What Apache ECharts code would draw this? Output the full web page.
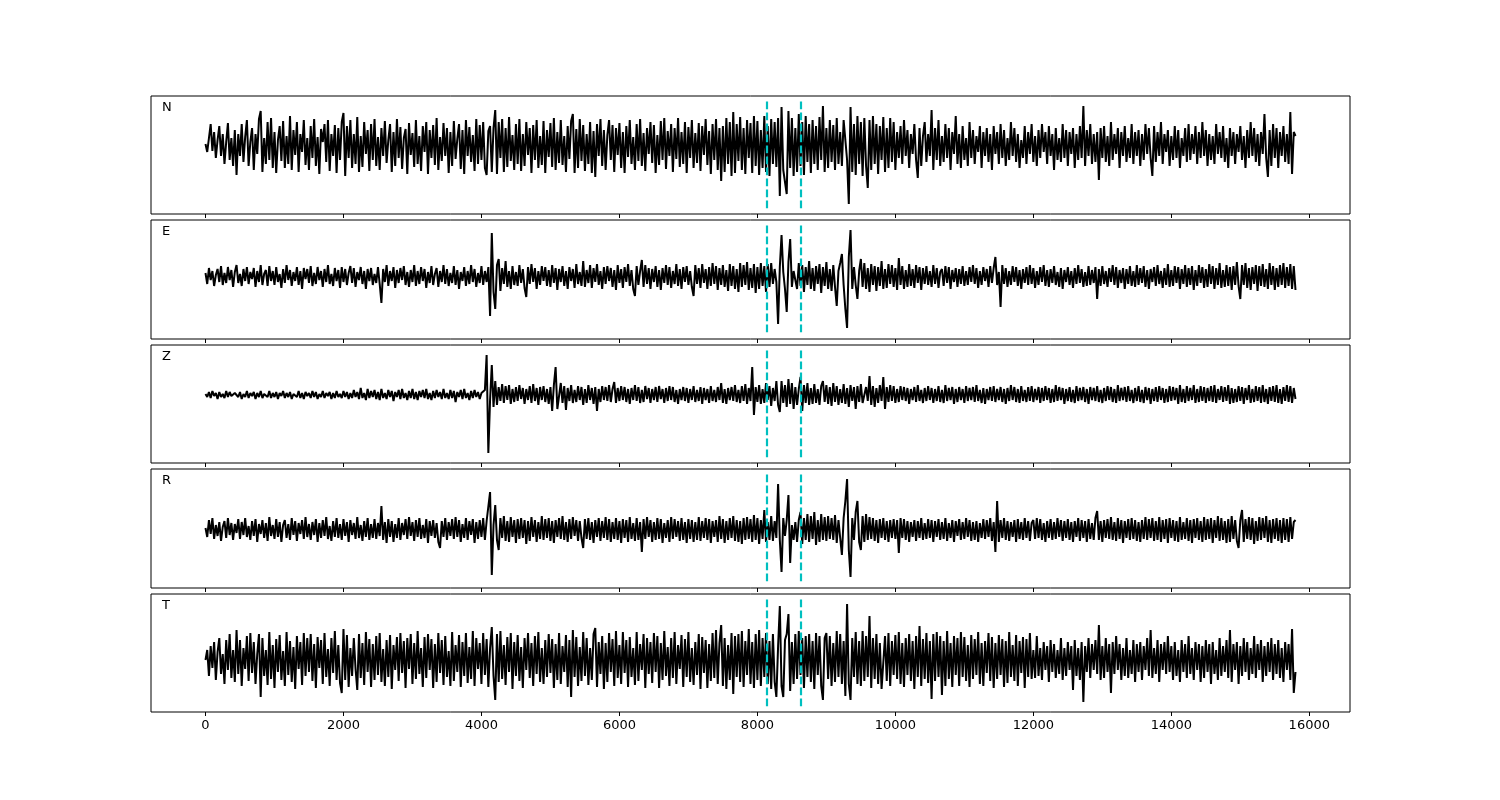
<!DOCTYPE html>
<html>
<head>
<meta charset="utf-8">
<script src="https://cdn.jsdelivr.net/npm/echarts/dist/echarts.min.js"></script>
<style>
html,body{margin:0;padding:0;background:#fff;}
#chart{width:1500px;height:800px;}
</style>
</head>
<body>
<div id="chart"></div>
<script>
// ---- data (sample step 25: t = index*25; amplitudes in trace units) ----
const SAMPLE_STEP = 25;
const componentNames = ['N', 'E', 'Z', 'R', 'T'];
const pickTimes = [8130, 8623];
const xTicks = [0, 2000, 4000, 6000, 8000, 10000, 12000, 14000, 16000];

const traceN = [
2,-6,8,22,-5,14,-12,6,20,-10,12,-18,4,23,-14,8,-20,16,-29,12,
-10,22,-16,9,26,-20,4,18,-24,12,-8,27,35,-26,8,-18,24,-14,28,-22,
14,-27,6,20,-15,25,-22,10,-18,30,-24,16,-9,24,-26,12,-6,26,-19,8,
-24,20,-12,27,-20,9,-28,17,4,22,-16,26,-25,12,-10,21,-27,18,-14,24,
33,-30,20,-12,26,-22,12,-18,29,-26,10,-21,24,-8,16,-25,22,-14,27,-20,
9,-24,18,-10,25,-17,6,22,-26,14,-20,27,-12,19,-23,8,17,-28,23,-9,
13,-21,26,-18,10,-25,20,-6,24,-28,16,-12,21,-19,28,-24,9,-15,23,-10,
18,-27,14,-20,25,-13,7,22,-23,16,-28,26,-10,19,-16,11,-25,27,-18,21,
-14,24,-22,-29,15,20,-26,18,36,-28,24,-12,27,-26,18,-21,29,-15,11,-24,
22,-18,27,-25,12,-20,24,-9,18,-27,21,-14,26,-22,10,-19,25,-27,16,-11,
23,-21,28,-24,14,-17,26,-19,10,-26,20,-13,25,32,-27,17,-22,27,-15,21,
-25,12,-18,24,-27,15,-31,22,-10,27,-20,16,-24,11,26,-14,21,-26,18,-9,
23,-22,14,-27,20,-11,26,-18,9,-24,22,-15,27,-20,13,-25,18,-8,24,-17,
21,-27,11,-19,25,-14,28,-23,15,-10,22,-26,18,-13,28,-21,14,-18,24,-27,
19,-12,26,-22,13,-17,23,-25,20,-9,27,-19,15,-28,22,-14,27,-24,18,-35,
20,-26,28,-18,24,-30,34,-27,22,-15,29,-24,18,-28,26,-12,23,-27,30,-20,
25,-29,16,-22,30,-26,20,-30,27,-18,24,-21,28,-50,39,-24,-26,-48,35,-22,
28,-30,18,-26,32,-20,24,-29,30,-16,22,-27,26,-18,20,-24,29,-14,40,-26,
18,-22,26,-16,21,-24,28,-18,14,-20,26,28,-14,-58,39,-26,22,-29,30,-18,
24,-30,28,-20,-42,26,-24,30,-18,22,-28,20,-14,29,-26,18,-22,28,-16,24,
-24,14,-12,20,-18,26,-10,16,-22,12,-8,22,-14,-32,18,-20,10,24,-16,12,
-10,36,-24,18,-14,26,-20,10,-16,22,-12,18,-24,14,-8,30,-18,12,-22,20,
-14,8,-20,24,-12,16,-18,10,-6,20,-22,14,-10,18,-16,12,-24,20,-8,14,
-18,22,-12,16,-20,8,-14,24,-10,18,-16,12,-22,6,-12,20,-18,14,-8,22,
-16,10,-20,16,-12,22,-6,14,-18,20,-10,12,-24,18,-14,8,-16,22,-12,16,
-20,14,-8,18,-22,12,-14,20,-12,40,-20,16,-10,22,-18,12,-16,14,-34,18,
-12,20,-16,10,-20,24,-14,12,-8,18,-22,14,-10,20,-16,8,-12,22,-18,14,
-10,16,-20,12,-14,22,-8,18,-12,-30,20,-16,14,-10,24,-18,12,-6,16,-20,
10,-14,20,-12,16,-22,8,-10,18,-16,22,-14,12,-8,20,-18,14,-12,24,-10,
16,-20,12,-14,10,-18,22,-8,14,-12,20,-16,8,-22,18,-10,14,-18,12,-6,
20,-14,10,-22,16,-12,24,-10,18,-16,12,-20,14,-8,32,-12,-31,16,-20,22,
-12,18,-22,14,-10,20,-16,12,-18,34,-28,14,10
];

const traceE = [
4,-7,9,-3,6,-9,2,8,-5,11,-8,4,-6,10,-3,7,-10,5,12,-6,
3,-9,8,-4,10,-7,5,-2,9,-10,6,-5,12,-8,3,7,-9,11,-4,6,
-8,10,-5,3,-11,8,-6,12,-3,7,-9,5,-4,10,-8,6,-12,9,-2,8,
-6,11,-9,4,-7,10,-3,6,-10,8,-5,12,-7,3,-9,9,-4,7,-11,10,
-5,8,-8,4,11,-6,9,-10,5,-3,10,-7,6,-12,8,-4,9,-8,3,-6,
10,-7,-26,8,-5,12,-9,6,-4,10,-11,7,-6,9,-3,11,-8,5,-10,7,
-5,12,-9,6,-7,10,-4,8,-11,5,-6,11,-8,3,9,-10,6,-5,12,-7,
8,-9,4,-6,11,-8,7,-12,5,-4,10,-9,6,-7,12,-5,8,-10,4,-6,
11,-8,6,-5,10,-39,44,-15,-32,12,18,-14,9,-7,16,-10,6,-12,11,-8,
5,-9,12,-6,8,-11,-20,10,-7,13,-5,9,-12,6,-8,11,-4,10,-9,7,
-10,12,-6,9,-13,8,-5,11,-9,6,-12,10,-4,8,-11,13,-7,5,-9,16,
-10,7,-6,12,-11,9,-5,13,-8,6,-12,10,-7,11,-4,9,-10,7,-13,12,
-6,8,-11,10,-5,13,-9,7,-12,-19,11,-8,6,17,-10,12,-7,9,-12,8,
-5,11,-10,7,-13,9,-6,12,-8,10,-11,6,-7,13,-9,8,-12,10,-5,11,
-8,6,-10,-19,12,-7,9,-11,13,-6,8,-12,10,-9,14,-7,11,-13,9,-8,
12,-10,7,-14,13,-9,11,-12,8,-15,14,-10,12,-8,15,-13,9,-11,13,-16,
10,-12,14,-9,11,-15,13,-10,14,-7,8,-5,-47,10,42,5,-12,-35,15,38,
-10,6,8,-12,14,-9,12,-15,10,-8,16,-12,9,-14,11,-7,13,-16,10,-9,
15,-12,8,-14,12,-10,-29,6,14,23,-8,-32,-51,20,47,-12,10,-8,-22,6,
18,-10,14,-12,9,-15,13,-8,11,-14,10,-9,16,-12,8,-11,13,-7,12,-10,
9,-13,19,-8,11,-12,7,-10,13,-9,8,-11,12,-6,10,-13,9,-7,11,-8,
6,-10,12,-7,9,-11,5,8,-9,11,-6,10,-12,7,-5,9,-10,8,-7,11,
-9,6,-8,10,-5,12,-7,9,-11,6,-8,10,-4,8,-10,11,-6,9,20,-8,
5,-30,12,-7,9,-10,6,-8,11,-5,10,-9,7,-12,8,-6,10,-8,12,-7,
9,-11,6,-8,10,-5,12,-9,7,-10,8,-6,11,-8,5,-10,9,-12,7,-5,
10,-8,6,-11,9,-7,12,-6,8,-10,5,-9,11,-8,7,-6,10,-22,8,-9,
11,-7,6,-10,9,-5,12,-8,10,-11,7,-6,9,-12,8,-7,11,-9,6,-10,
12,-8,9,-6,11,-10,7,-12,8,-5,10,-9,12,-7,6,-11,9,-8,13,-10,
7,-9,11,-6,10,-12,8,-7,12,-10,9,-8,11,-13,7,-9,12,-6,10,-11,
8,-10,13,-7,11,-12,9,-8,14,-11,7,-10,12,-9,10,-13,11,-8,15,-9,
-22,12,-8,14,-11,9,-13,10,-7,12,-14,11,-9,13,-10,8,-12,14,-8,11,
-13,9,-10,12,-8,14,-11,10,-9,13,-12,11,-13
];

const traceZ = [
1,-2,3,-3,4,-1,2,-4,3,-2,1,-3,4,-2,3,-1,-3,2,4,-2,
3,-4,1,-2,4,-3,2,-1,3,-4,2,-2,4,-3,1,3,-2,4,-3,2,
-2,3,-4,2,-1,4,-3,2,-2,3,-4,1,3,-2,4,-3,2,-4,3,-1,
2,-3,4,-2,3,-4,1,-2,4,-3,2,-1,3,-4,2,-3,4,-2,1,-3,
4,-2,3,-4,2,-3,5,-2,3,-4,7,-3,2,-5,6,-3,4,-2,5,-4,
3,-5,6,-3,2,-4,5,-2,4,-6,3,-2,5,-4,6,-3,2,-5,4,-3,
6,-4,3,-5,4,-2,5,-3,6,-4,2,-5,4,-3,5,-2,3,-4,6,-3,
2,-4,5,-3,4,-7,3,-2,5,-4,6,-3,2,-5,4,-3,5,-2,3,-4,
2,4,5,40,-58,-5,30,-12,14,-10,8,-6,11,-8,9,-5,10,-9,6,-7,
8,-6,10,-4,7,-9,6,-5,9,-8,11,-6,7,-10,8,-5,9,-7,6,-9,
8,-16,10,28,-14,-16,12,-8,9,-15,7,-6,10,-8,5,-7,9,-5,8,-10,
6,-8,10,-5,7,-9,8,-16,6,-7,9,-5,8,-6,10,-7,6,13,-8,7,
-6,9,-5,8,-7,6,-9,7,-5,10,-6,8,-8,5,-7,9,-4,7,-8,6,
-5,8,-7,9,-4,6,-8,7,-6,9,-5,8,-7,5,-9,6,-5,8,-6,7,
-8,6,-5,9,-7,5,-6,8,-9,7,-5,6,-8,9,-6,5,-7,8,-5,12,
-8,6,-9,7,-5,8,-6,10,-7,5,-8,9,-6,11,-9,7,-6,28,-20,8,
-7,10,-9,6,-8,12,-5,9,-11,7,-6,14,-10,-17,14,-8,10,-12,16,-9,
12,-14,8,-10,6,18,-16,10,-8,12,-10,7,-9,11,-8,6,-10,9,14,-7,
10,-9,8,-11,12,-7,9,-10,6,-8,11,-9,7,-12,10,-6,8,-14,9,-7,
11,-8,-10,8,-6,19,-10,9,-12,7,-8,10,-6,18,-14,8,-7,10,-6,9,
-8,6,-7,9,-5,8,-6,7,-9,6,-5,8,-7,10,-6,5,-8,7,-6,9,
-5,7,-8,6,-6,9,-7,5,-8,10,-6,7,-5,8,-9,6,-7,8,-5,6,
-8,9,-6,7,-5,8,-7,10,-6,5,-8,7,-9,6,-5,8,-6,9,-7,6,
-5,8,-7,6,-9,7,-6,10,-5,8,-7,6,-8,9,-6,5,-7,8,-6,9,
-7,6,-5,8,-8,7,-6,9,-5,7,-8,6,-7,10,-6,8,-5,7,-9,6,
-6,8,-7,5,-8,9,-6,7,-5,8,-7,6,-9,8,-5,7,-6,9,-7,5,
-8,7,-6,9,-5,8,-7,6,-8,10,-6,7,-5,8,-7,9,-6,5,-8,7,
-6,9,-7,5,-8,8,-5,7,-9,6,-6,8,-7,9,-5,7,-8,6,-7,9,
-6,8,-5,7,-9,10,-7,6,-8,9,-6,7,-5,10,-8,6,-7,9,-6,8,
-8,7,-6,9,-7,10,-8,6,-5,9,-7,8,-6,10,-9,7,-8,6,-7,9,
-6,8,-9,7,-5,10,-8,6,-7,9,-6,8,-8,10,-7,6,-9,8,-6,9,
-7,10,-8,6,-9,8,-6,10,-7,9,-8,7,-4
];

const traceR = [
2,-7,10,-4,12,-9,5,-6,8,-11,3,9,-8,12,-5,7,-10,6,-3,11,
-9,8,-5,12,-7,4,-10,9,-6,11,-12,6,-4,10,-8,7,-11,13,-6,5,
-9,11,-7,8,-12,5,10,-8,6,-10,12,-5,9,-11,7,-4,10,-9,13,-7,
6,-10,8,-5,11,-12,7,-8,10,-6,13,-9,4,-11,9,-7,12,-8,6,-10,
11,-6,8,-12,10,-5,7,-9,13,-8,5,-11,9,-7,12,-10,6,-8,11,-9,
7,-6,24,-10,8,-13,11,-7,9,-12,6,-8,12,-10,7,-5,11,-9,13,-6,
8,-11,10,-7,12,-9,5,-8,11,-13,9,-6,10,-8,7,-12,-18,9,-7,12,
-10,8,-6,11,-9,13,-7,10,-12,6,-8,12,-10,9,-5,11,-13,8,-9,10,
-7,12,-10,9,8,38,-45,5,25,-10,-20,12,-8,14,-11,9,-12,13,-7,10,
-13,11,-9,12,-8,10,-14,9,-11,13,-7,10,-12,8,-9,14,-10,11,-8,12,
-11,9,-13,10,-7,12,-9,14,-10,8,-12,11,-9,13,-6,10,-11,9,-8,-18,
11,-9,12,-10,8,-13,10,-7,12,-11,9,-8,13,-10,11,-12,8,-9,12,-10,
9,-13,11,-8,10,-12,13,-9,7,-11,12,-10,8,-22,11,-9,13,-7,10,-12,
8,-10,12,-9,11,-13,7,-8,10,-12,13,-9,11,-7,9,-11,12,-10,8,-13,
11,-9,10,-12,8,-10,13,-11,9,-8,12,-10,11,-13,9,-7,10,-12,14,-9,
11,-13,9,-10,12,-8,14,-11,10,-12,9,-14,12,-10,13,-9,11,-12,15,-10,
12,-14,10,-9,20,-12,8,-10,14,-11,9,-8,46,-10,-42,12,-6,10,35,-33,
5,-10,8,-12,10,18,-14,12,-10,16,-12,14,-9,18,-15,10,-12,16,-10,13,
-11,14,-9,12,-10,15,-13,10,-8,-25,12,29,51,-20,-47,12,-10,18,29,-12,
-20,14,-12,16,-10,13,-9,12,-11,10,-13,11,-8,12,-10,9,-12,10,-8,11,
-9,10,-23,12,-8,11,-10,9,-12,8,-7,10,-11,9,-8,12,-10,7,-9,11,
-8,10,-12,9,-7,11,-10,8,-9,12,-11,7,-8,10,-12,9,-6,11,-10,8,
-9,12,-7,10,-11,8,-10,9,-12,7,-8,11,-9,10,-7,12,-11,8,-22,29,
-12,10,-8,12,-10,9,-11,8,-7,10,-12,11,-9,8,-10,12,-8,9,-11,7,
10,-9,12,-8,11,-10,7,-12,9,-8,11,-10,8,-9,12,-7,10,-11,9,-8,
11,-10,8,-12,9,-7,12,-11,10,-8,9,-12,11,-9,7,-10,12,19,-10,9,
-12,10,-8,11,-9,13,-10,8,-11,12,-9,10,-13,9,-8,11,-10,12,-9,10,
-11,8,-12,10,-9,13,-10,11,-8,12,-11,9,-10,13,-12,10,-9,11,-13,12,
-8,10,-11,9,-12,13,-10,8,-9,12,-11,10,-13,11,-8,12,-10,9,-12,13,
-10,11,-9,12,-13,10,-8,14,-11,12,-10,9,-13,11,-12,14,-9,10,-11,-18,
10,20,-12,11,-9,13,-10,12,-14,9,-11,13,-10,12,-8,14,-12,10,-13,11,
-9,12,-11,10,-13,12,-10,11,-12,13,-9,8,10
];

const traceT = [
0,10,-16,14,-8,18,-20,8,22,-14,6,-24,20,-10,26,-18,10,-22,30,-14,
20,-26,12,-9,24,-21,27,-13,18,-24,6,26,-37,22,-16,10,-25,28,-19,15,
-28,21,-12,25,-20,9,-26,28,-15,19,-22,13,-29,24,-9,18,-25,27,-16,22,
-12,26,-21,16,-28,23,-8,20,-24,27,-17,11,-26,22,-13,29,-20,15,-23,-33,
31,-20,25,-27,12,-16,22,-9,-30,26,-18,17,-25,28,-12,21,-27,16,-20,24,
-15,27,-22,11,-26,20,-17,25,-29,15,-10,23,-21,27,-13,19,-28,22,-9,26,
-24,17,-19,29,-14,12,-27,23,-18,26,-10,21,-28,16,-22,27,-13,20,-25,24,
-17,9,-26,28,-21,15,-12,25,-27,18,-16,27,-23,13,-19,29,-26,22,-9,17,
-24,27,-15,21,-27,12,33,-16,-40,26,-22,29,-19,15,-25,23,-12,27,-29,18,
-16,25,-21,13,-28,22,-10,27,-18,17,-26,24,-14,28,-22,12,-24,20,-17,26,
-13,21,-28,16,-20,27,-24,14,-12,25,-27,20,-37,30,-17,23,-26,13,-21,28,
-16,22,-25,12,-20,26,32,-27,18,-14,24,-29,17,-22,27,-12,21,-26,29,-18,
15,-24,28,-13,20,-27,23,-17,12,-25,28,-21,16,-10,26,-28,22,-14,18,-23,
27,-12,24,-28,17,-20,29,-16,13,-26,22,-18,28,-24,15,-9,25,-27,21,-17,
28,-22,12,-25,18,-15,26,-29,23,-13,20,-28,16,-21,27,-18,30,-24,17,35,
-26,22,-29,15,-20,27,-34,24,-17,26,-22,29,-27,19,-15,31,-24,18,-28,26,
-20,30,-26,22,-17,27,-24,19,-29,26,-22,-37,14,54,-26,-37,20,26,46,-31,
18,-24,26,-19,29,-15,22,-28,24,-17,26,-22,19,-29,27,-15,24,-26,-40,22,
27,-19,24,-26,17,-22,29,-17,26,-24,19,-36,56,-24,-40,22,-17,28,-24,19,
-26,29,-21,24,-17,44,-28,22,-19,26,-24,17,-29,-31,24,-21,27,-26,19,-15,
25,-19,28,-24,17,-27,22,-15,26,-21,19,-29,24,-17,34,-26,21,-19,27,-23,
19,-39,26,-21,28,-17,24,-35,19,-26,29,-19,17,-27,24,-15,22,-26,28,-17,
23,-21,15,-27,25,-19,21,-15,28,-24,17,-26,19,-13,27,-21,23,-28,17,-19,
25,-15,21,-27,19,-23,28,-17,15,-21,25,-26,19,-13,23,-28,21,-17,27,-19,
10,-18,24,-16,12,-20,18,-10,14,-22,20,-12,16,-18,10,-14,22,-20,12,-16,
18,-10,14,-30,20,-16,12,-20,18,-42,14,-12,22,-18,16,-10,20,-14,35,-20,
14,-18,22,-12,16,-33,18,-14,24,-10,16,-20,12,-16,22,-18,10,-14,20,-22,
16,-12,18,-20,14,-10,22,-16,30,-18,12,-14,20,-22,16,-10,18,-14,24,-12,
14,-20,18,-16,10,-22,20,-12,16,-18,24,-14,12,-20,18,-10,16,-22,14,-18,
20,-12,16,-24,18,-14,10,-20,22,-16,14,-12,20,-18,30,-22,16,-10,18,-24,
14,-16,22,-12,18,-20,12,-14,24,-18,16,-10,20,-22,14,-16,18,-12,22,-20,
16,-14,20,-18,12,-22,18,-10,16,-20,31,-33,-12
];

const traces = [traceN, traceE, traceZ, traceR, traceT];

// ---- layout (separate from data) ----
const layout = [
  {top: 96,  height: 118, ymin: -68, ymax: 50},
  {top: 220, height: 119, ymin: -62, ymax: 57},
  {top: 345, height: 118, ymin: -68, ymax: 50},
  {top: 469, height: 119, ymin: -58, ymax: 61},
  {top: 594, height: 118, ymin: -52, ymax: 66}
];
const LEFT = 151, WIDTH = 1199;
const XMIN = -790, XMAX = 16590;
const FONT = 'DejaVu Sans';

const grids = [], xAxes = [], yAxes = [], series = [], graphics = [];
layout.forEach((p, k) => {
  grids.push({left: LEFT, top: p.top, width: WIDTH, height: p.height,
    show: true, borderColor: '#000', borderWidth: 1, backgroundColor: 'transparent'});
  xAxes.push({
    gridIndex: k, type: 'value', min: XMIN, max: XMAX,
    axisLine: {show: false, onZero: false},
    splitLine: {show: false},
    axisTick: {show: true, customValues: xTicks, length: 4, lineStyle: {color: '#000', width: 1}},
    axisLabel: {show: k === layout.length - 1, customValues: xTicks, color: '#000',
      fontSize: 13, fontFamily: FONT, margin: 7, formatter: v => String(v)}
  });
  yAxes.push({gridIndex: k, type: 'value', min: p.ymin, max: p.ymax, show: false});
  const span = p.ymax - p.ymin;
  const lo = p.ymin + span * 0.047, hi = p.ymax - span * 0.047;
  series.push({
    type: 'line', xAxisIndex: k, yAxisIndex: k,
    data: traces[k].map((v, i) => [i * SAMPLE_STEP, v]),
    showSymbol: false, symbol: 'none', animation: false,
    lineStyle: {color: '#000', width: 2},
    markLine: {
      silent: true, animation: false, symbol: ['none', 'none'],
      label: {show: false},
      lineStyle: {color: '#00bfbf', type: [7.7, 3.3], width: 2.2},
      data: pickTimes.map(t => [{coord: [t, hi]}, {coord: [t, lo]}])
    }
  });
  graphics.push({type: 'text', left: 162, top: p.top + 5,
    style: {text: componentNames[k], fill: '#000', font: '13px "' + FONT + '"'}});
});

const chart = echarts.init(document.getElementById('chart'), null, {renderer: 'canvas'});
chart.setOption({
  animation: false,
  backgroundColor: '#fff',
  grid: grids, xAxis: xAxes, yAxis: yAxes, series: series, graphic: graphics
});
</script>
</body>
</html>
